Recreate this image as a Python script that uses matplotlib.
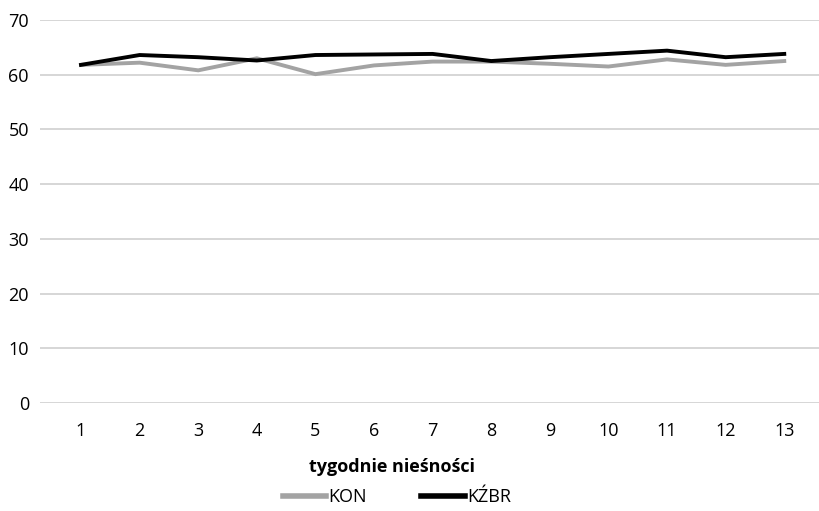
import matplotlib.pyplot as plt
from matplotlib.lines import Line2D

weeks = list(range(1, 14))
kon = [61.8, 62.2, 60.8, 63.0, 60.1, 61.7, 62.4, 62.4, 62.0, 61.5, 62.8, 61.8, 62.5]
kzbr = [61.8, 63.6, 63.2, 62.6, 63.6, 63.7, 63.8, 62.5, 63.2, 63.8, 64.4, 63.2, 63.8]
yticks = [0, 10, 20, 30, 40, 50, 60, 70]

plt.rcParams['font.family'] = ['Open Sans', 'DejaVu Sans']

W, H = 820, 511
fig = plt.figure(figsize=(W / 100, H / 100), dpi=100)
ax = fig.add_axes([40 / W, 1 - 403 / H, 780 / W, 383 / H])

ax.plot(weeks, kon, color='#a3a3a3', lw=2.8, solid_joinstyle='miter', label='KON', zorder=3)
ax.plot(weeks, kzbr, color='black', lw=2.8, solid_joinstyle='miter', label='KŹBR', zorder=4)

ax.set_ylim(0, 70)
ax.set_xlim(0.30, 13.61)
ax.set_yticks(yticks)
ax.set_xticks(weeks)
ax.yaxis.grid(True, color='#d0d0d0', lw=1.2)
ax.set_axisbelow(True)
for s in ax.spines.values():
    s.set_visible(False)
ax.tick_params(length=0, labelsize=13)
ax.tick_params(axis='y', pad=8)
ax.tick_params(axis='x', pad=14)

fig.text(392 / W, 1 - 467 / H, 'tygodnie nieśności', ha='center', va='center',
         fontsize=13, fontweight='bold')

handles = [Line2D([], [], color='#a3a3a3', lw=4), Line2D([], [], color='black', lw=4)]
fig.legend(handles, ['KON', 'KŹBR'], loc='center', bbox_to_anchor=(397 / W, 1 - 497 / H),
           ncol=2, frameon=False, fontsize=13, handlelength=2.4, handletextpad=0.15,
           columnspacing=3.0)

fig.savefig('out.png', dpi=100)
